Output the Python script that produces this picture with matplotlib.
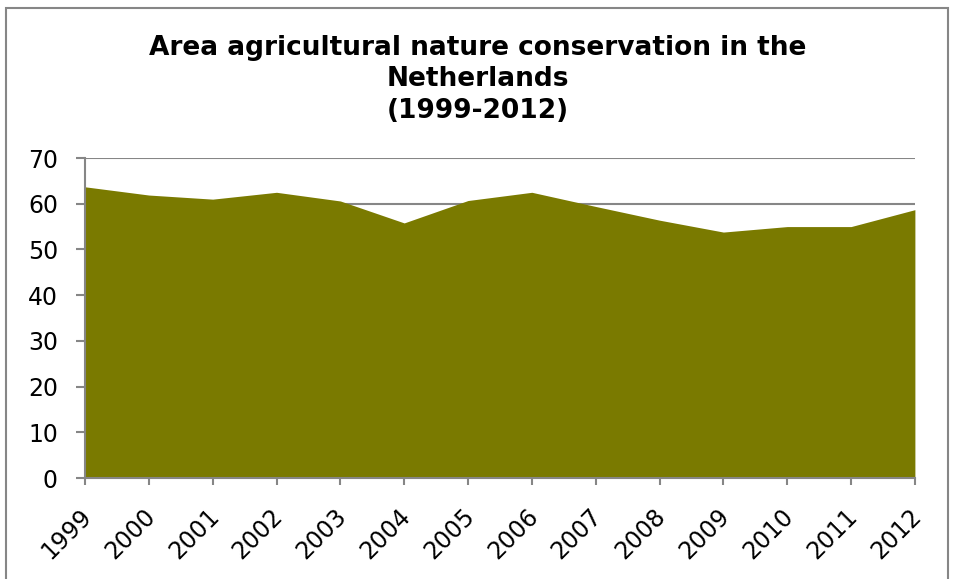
import numpy as np
import matplotlib.pyplot as plt
from matplotlib.patches import Rectangle
from matplotlib.transforms import ScaledTranslation

years = ['1999', '2000', '2001', '2002', '2003', '2004', '2005',
         '2006', '2007', '2008', '2009', '2010', '2011', '2012']
area = [63.7, 61.9, 61.0, 62.5, 60.6, 55.8, 60.7,
        62.5, 59.4, 56.4, 53.8, 55.0, 55.0, 58.7]

grey = '#868686'

fig = plt.figure(figsize=(9.55, 5.79), dpi=100)
ax = fig.add_axes([0.089, 0.1744, 0.869, 0.5527])

x = np.arange(len(years))
ax.fill_between(x, 0, area, color='#7a7a00', linewidth=0, zorder=2)

ax.set_xlim(0, len(years) - 1)
ax.set_ylim(0, 70)
ax.set_yticks(range(0, 71, 10))
ax.yaxis.grid(True, color=grey, linewidth=1.5, zorder=0)
ax.set_axisbelow(True)

ax.set_xticks(x)
ax.set_xticklabels(years, rotation=45, ha='right', rotation_mode='anchor')
ax.tick_params(axis='both', direction='out', width=1.5,
               color=grey, labelsize=17)
ax.tick_params(axis='x', length=5, pad=6)
ax.tick_params(axis='y', length=6.5, pad=13)

# push the slanted year labels down below the ticks
shift = ScaledTranslation(-0.06, -0.11, fig.dpi_scale_trans)
for lbl in ax.get_xticklabels():
    lbl.set_transform(lbl.get_transform() + shift)

for side in ['top', 'right']:
    ax.spines[side].set_visible(False)
for side in ['left', 'bottom']:
    ax.spines[side].set_color(grey)
    ax.spines[side].set_linewidth(1.5)

fig.text(0.5, 0.94, 'Area agricultural nature conservation in the\nNetherlands\n(1999-2012)',
         ha='center', va='top', fontsize=19, fontweight='bold', linespacing=1.27)

# outer chart frame
fig.patches.append(Rectangle((0.006, -0.01), 0.987, 0.997, transform=fig.transFigure,
                             fill=False, edgecolor=grey, linewidth=1.5))

fig.savefig('out.png', dpi=100)
